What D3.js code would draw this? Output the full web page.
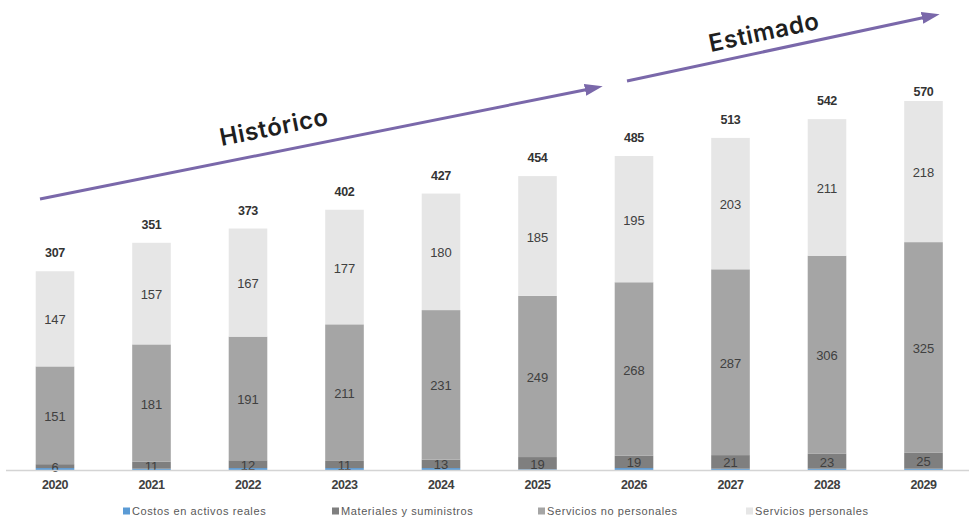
<!DOCTYPE html>
<html lang="es">
<head>
<meta charset="UTF-8">
<title>Gasto por objeto 2020-2029</title>
<style>
  body { margin: 0; background: #fff; }
  svg { display: block; }
</style>
</head>
<body>
<script src="https://d3js.org/d3.v7.min.js"></script>
<script>
  // datos
  var years = ["2020", "2021", "2022", "2023", "2024", "2025", "2026", "2027", "2028", "2029"];
  var activosReales = [3, 2, 3, 3, 3, 1, 3, 2, 2, 2];
  var materiales = [6, 11, 12, 11, 13, 19, 19, 21, 23, 25];
  var noPersonales = [151, 181, 191, 211, 231, 249, 268, 287, 306, 325];
  var personales = [147, 157, 167, 177, 180, 185, 195, 203, 211, 218];
  var totals = [307, 351, 373, 402, 427, 454, 485, 513, 542, 570];

  var seriesKeys = ["activos", "materiales", "noPersonales", "personales"];
  var seriesLabels = ["Costos en activos reales", "Materiales y suministros", "Servicios no personales", "Servicios personales"];
  var seriesColors = ["#5b9bd5", "#7f7f7f", "#a5a5a5", "#e6e6e6"];

  var width = 969, height = 520;
  var baseY = 470;

  var svg = d3.select("body").append("svg")
    .attr("width", width)
    .attr("height", height);

  var table = years.map(function(y, i) {
    return {
      year: y,
      activos: activosReales[i],
      materiales: materiales[i],
      noPersonales: noPersonales[i],
      personales: personales[i]
    };
  });

  var stacked = d3.stack().keys(seriesKeys)(table);

  var x = d3.scaleBand()
    .domain(years)
    .range([6.75, 971.75])
    .paddingInner(0.6)
    .paddingOuter(0.3);

  var y = d3.scaleLinear()
    .domain([0, 570])
    .range([baseY, 101]);

  // barras
  var groups = svg.selectAll("g.serie")
    .data(stacked)
    .enter()
    .append("g")
    .attr("class", "serie")
    .attr("fill", function(d, i) { return seriesColors[i]; });

  groups.selectAll("rect")
    .data(function(d) { return d; })
    .enter()
    .append("rect")
    .attr("x", function(d) { return x(d.data.year); })
    .attr("y", function(d) { return y(d[1]); })
    .attr("height", function(d) { return y(d[0]) - y(d[1]); })
    .attr("width", x.bandwidth());

  // etiquetas de valores (sin la serie de activos)
  stacked.slice(1).forEach(function(layer) {
    svg.append("g")
      .selectAll("text")
      .data(layer)
      .enter()
      .append("text")
      .attr("x", function(d) { return x(d.data.year) + x.bandwidth() / 2; })
      .attr("y", function(d) { return (y(d[0]) + y(d[1])) / 2 + 1; })
      .attr("dy", "0.35em")
      .attr("text-anchor", "middle")
      .attr("font-family", "Liberation Sans, Arial, sans-serif")
      .attr("font-size", "13px")
      .attr("fill", "#404040")
      .text(function(d) { return d.data[layer.key]; });
  });

  // totales (el último queda más pegado a la barra, bajo la flecha)
  svg.append("g")
    .selectAll("text")
    .data(totals)
    .enter()
    .append("text")
    .attr("x", function(d, i) { return x(years[i]) + x.bandwidth() / 2; })
    .attr("y", function(d, i) { return y(d) - (i === totals.length - 1 ? 5 : 14); })
    .attr("text-anchor", "middle")
    .attr("font-family", "Liberation Sans, Arial, sans-serif")
    .attr("font-weight", "bold")
    .attr("font-size", "12.5px")
    .attr("letter-spacing", "-0.3px")
    .attr("fill", "#333")
    .text(function(d) { return d; });

  // eje x
  svg.append("line")
    .attr("x1", 6)
    .attr("x2", width)
    .attr("y1", baseY + 0.5)
    .attr("y2", baseY + 0.5)
    .attr("stroke", "#d4d4d4")
    .attr("stroke-width", 1.5);

  var xAxis = svg.append("g")
    .attr("transform", "translate(0," + baseY + ")")
    .call(d3.axisBottom(x).tickSize(0).tickPadding(10));
  xAxis.select(".domain").remove();
  xAxis.selectAll("text")
    .attr("font-family", "Liberation Sans, Arial, sans-serif")
    .attr("font-weight", "bold")
    .attr("font-size", "12.5px")
    .attr("letter-spacing", "-0.5px")
    .attr("fill", "#404040");

  // leyenda
  var legendX = [123, 332, 538, 746];
  var legend = svg.selectAll("g.legend")
    .data(seriesLabels)
    .enter()
    .append("g")
    .attr("class", "legend")
    .attr("transform", function(d, i) { return "translate(" + legendX[i] + ",511)"; });

  legend.append("rect")
    .attr("x", 0)
    .attr("y", -3.5)
    .attr("width", 7)
    .attr("height", 7)
    .attr("fill", function(d, i) { return seriesColors[i]; });

  legend.append("text")
    .attr("x", 9)
    .attr("dy", "0.35em")
    .attr("font-family", "Liberation Sans, Arial, sans-serif")
    .attr("font-size", "11px")
    .attr("letter-spacing", "0.6px")
    .attr("fill", "#595959")
    .text(function(d) { return d; });

  // flechas de tendencia
  var arrowColor = "#7a68aa";
  svg.append("defs").append("marker")
    .attr("id", "head")
    .attr("markerUnits", "userSpaceOnUse")
    .attr("viewBox", "0 0 18 12")
    .attr("refX", 2)
    .attr("refY", 6)
    .attr("markerWidth", 18)
    .attr("markerHeight", 12)
    .attr("orient", "auto")
    .append("path")
    .attr("d", "M0,0 L18,6 L0,12 Z")
    .attr("fill", arrowColor);

  var arrows = [
    { x1: 40, y1: 199, x2: 587, y2: 89.5, label: "Histórico", lx: 274, ly: 127 },
    { x1: 627, y1: 81, x2: 924, y2: 17.5, label: "Estimado", lx: 764, ly: 32 }
  ];

  arrows.forEach(function(a) {
    svg.append("line")
      .attr("x1", a.x1).attr("y1", a.y1)
      .attr("x2", a.x2).attr("y2", a.y2)
      .attr("stroke", arrowColor)
      .attr("stroke-width", 3)
      .attr("marker-end", "url(#head)");

    var angle = Math.atan2(a.y2 - a.y1, a.x2 - a.x1) * 180 / Math.PI;
    svg.append("text")
      .attr("transform", "translate(" + a.lx + "," + a.ly + ") rotate(" + angle + ")")
      .attr("text-anchor", "middle")
      .attr("dy", "0.35em")
      .attr("font-family", "Inter, Open Sans, sans-serif")
      .attr("font-weight", "600")
      .attr("font-size", "24px")
      .attr("letter-spacing", "0.6px")
      .attr("fill", "#1f1f1f")
      .text(a.label);
  });
</script>
</body>
</html>
